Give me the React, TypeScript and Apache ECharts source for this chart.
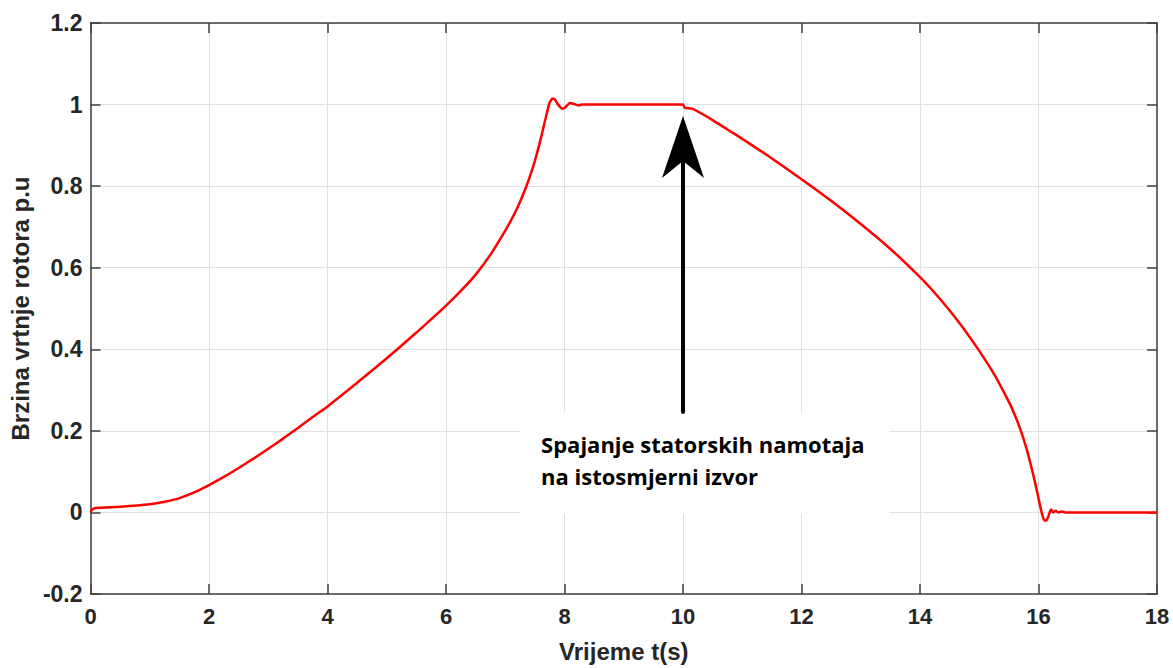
import React, { useEffect, useRef } from "react";
import * as echarts from "echarts";

// Time axis (s) and rotor speed (p.u.)
const TIME = [
  0, 0.03, 0.1, 0.5, 1.0, 1.25, 1.5, 1.75, 2.0, 2.25, 2.5, 2.75, 3.0, 3.25, 3.5,
  3.75, 4.0, 4.5, 5.0, 5.5, 6.0, 6.25, 6.5, 6.75, 7.0, 7.1, 7.2, 7.3, 7.4, 7.5,
  7.6, 7.7, 7.75, 7.8, 7.84, 7.89, 7.97, 8.02, 8.09, 8.16, 8.23, 8.3, 10.0, 10.03,
  10.15, 10.25, 10.5, 10.75, 11.0, 11.5, 12.0, 12.5, 13.0, 13.5, 14.0, 14.25, 14.5,
  14.75, 15.0, 15.25, 15.5, 15.6, 15.7, 15.8, 15.9, 15.95, 16.0, 16.05, 16.1,
  16.13, 16.17, 16.21, 16.25, 16.29, 16.33, 16.4, 16.45, 18.0,
];
const SPEED = [
  0, 0.008, 0.011, 0.014, 0.02, 0.026, 0.035, 0.049, 0.067, 0.087, 0.109, 0.132,
  0.156, 0.181, 0.207, 0.234, 0.26, 0.318, 0.378, 0.441, 0.507, 0.543, 0.583,
  0.632, 0.691, 0.717, 0.746, 0.779, 0.817, 0.862, 0.917, 0.978, 1.005, 1.015,
  1.012, 1.0, 0.99, 0.994, 1.004, 1.0015, 0.998, 1.0, 1.0, 0.992, 0.99, 0.983,
  0.962, 0.939, 0.916, 0.868, 0.817, 0.764, 0.707, 0.646, 0.577, 0.538, 0.495,
  0.448, 0.396, 0.339, 0.271, 0.239, 0.201, 0.155, 0.099, 0.068, 0.035, 0.002,
  -0.02, -0.02, -0.008, 0.007, 0.0, 0.004, 0.0, 0.002, 0, 0,
];

const X_TITLE = "Vrijeme t(s)";
const Y_TITLE = "Brzina vrtnje rotora p.u";
const NOTE_LINES = ["Spajanje statorskih namotaja", "na istosmjerni izvor"];

// annotation anchors in data units: [t, fromSpeed, toSpeed]
const ARROW = [10, 0.246, 0.972];
// note box corners in data units: [t1, v1, t2, v2]
const NOTE_BOX = [7.25, 0.245, 13.48, -0.003];

const AXIS_COLOR = "#404040";
const LABEL_COLOR = "#262626";
const FONT = "Liberation Sans, Arial, sans-serif";

export default function App() {
  const ref = useRef<HTMLDivElement>(null);

  useEffect(() => {
    if (!ref.current) return;
    const chart = echarts.init(ref.current, null, { renderer: "svg" });

    const lineData = TIME.map((t, i) => [t, SPEED[i]]);

    const axisCommon = {
      type: "value" as const,
      axisLine: { show: true, onZero: false, lineStyle: { color: AXIS_COLOR, width: 1.5 } },
      axisTick: { show: true, inside: true, length: 10, lineStyle: { color: AXIS_COLOR, width: 1.5 } },
    };

    const option: any = {
      animation: false,
      backgroundColor: "#ffffff",
      grid: { left: 89, right: 16, top: 23, bottom: 67, containLabel: false },
      xAxis: [
        {
          ...axisCommon,
          position: "bottom",
          min: 0,
          max: 18,
          interval: 2,
          axisLabel: {
            color: LABEL_COLOR,
            fontSize: 22,
            fontWeight: "bold",
            fontFamily: FONT,
            margin: 11,
          },
          splitLine: { show: true, lineStyle: { color: "#e0e0e0", width: 1 } },
          name: X_TITLE,
          nameLocation: "middle",
          nameGap: 45,
          nameTextStyle: { color: LABEL_COLOR, fontSize: 24, fontWeight: "bold", fontFamily: FONT },
        },
        {
          ...axisCommon,
          position: "top",
          min: 0,
          max: 18,
          interval: 2,
          axisLabel: { show: false },
          splitLine: { show: false },
        },
      ],
      yAxis: [
        {
          ...axisCommon,
          position: "left",
          min: -0.2,
          max: 1.2,
          interval: 0.2,
          axisLabel: {
            color: LABEL_COLOR,
            fontSize: 23,
            fontWeight: "bold",
            fontFamily: FONT,
            margin: 8,
          },
          splitLine: { show: true, lineStyle: { color: "#e0e0e0", width: 1 } },
          name: Y_TITLE,
          nameLocation: "middle",
          nameGap: 55,
          nameTextStyle: { color: LABEL_COLOR, fontSize: 24, fontWeight: "bold", fontFamily: FONT },
        },
        {
          ...axisCommon,
          position: "right",
          min: -0.2,
          max: 1.2,
          interval: 0.2,
          axisLabel: { show: false },
          splitLine: { show: false },
        },
      ],
      series: [
        {
          type: "custom",
          coordinateSystem: "cartesian2d",
          xAxisIndex: 0,
          yAxisIndex: 0,
          clip: false,
          z: 2,
          silent: true,
          data: [[ARROW[0], ARROW[1], ARROW[2]]],
          renderItem: (params: any, api: any) => {
            const b1 = api.coord([NOTE_BOX[0], NOTE_BOX[1]]);
            const b2 = api.coord([NOTE_BOX[2], NOTE_BOX[3]]);
            const base = api.coord([ARROW[0], ARROW[1]]);
            const tip = api.coord([ARROW[0], ARROW[2]]);
            const headLen = 62;
            const notch = 45;
            const halfW = 21;
            const textStyle = {
              fill: "#000000",
              fontSize: 22,
              fontWeight: "bold",
              fontFamily: "Open Sans",
              verticalAlign: "middle",
              align: "left",
            };
            return {
              type: "group",
              children: [
                {
                  type: "rect",
                  shape: { x: b1[0], y: b1[1], width: b2[0] - b1[0], height: b2[1] - b1[1] },
                  style: { fill: "#ffffff" },
                },
                {
                  type: "text",
                  style: { ...textStyle, text: NOTE_LINES[0], x: b1[0] + 21, y: b1[1] + 31 },
                },
                {
                  type: "text",
                  style: { ...textStyle, text: NOTE_LINES[1], x: b1[0] + 21, y: b1[1] + 63 },
                },
                {
                  type: "line",
                  shape: { x1: base[0], y1: base[1], x2: tip[0], y2: tip[1] + notch },
                  style: { stroke: "#000000", lineWidth: 4, lineCap: "round" },
                },
                {
                  type: "polygon",
                  shape: {
                    points: [
                      [tip[0], tip[1]],
                      [tip[0] + halfW, tip[1] + headLen],
                      [tip[0], tip[1] + notch],
                      [tip[0] - halfW, tip[1] + headLen],
                    ],
                  },
                  style: { fill: "#000000" },
                },
              ],
            };
          },
        },
        {
          type: "line",
          xAxisIndex: 0,
          yAxisIndex: 0,
          data: lineData,
          showSymbol: false,
          smooth: 0.2,
          z: 3,
          lineStyle: { color: "#ff0000", width: 2.5 },
          itemStyle: { color: "#ff0000" },
        },
      ],
    };

    chart.setOption(option);
    return () => chart.dispose();
  }, []);

  return (
    <div
      ref={ref}
      style={{ position: "fixed", left: 0, top: 0, width: 1173, height: 668, background: "#fff" }}
    />
  );
}
